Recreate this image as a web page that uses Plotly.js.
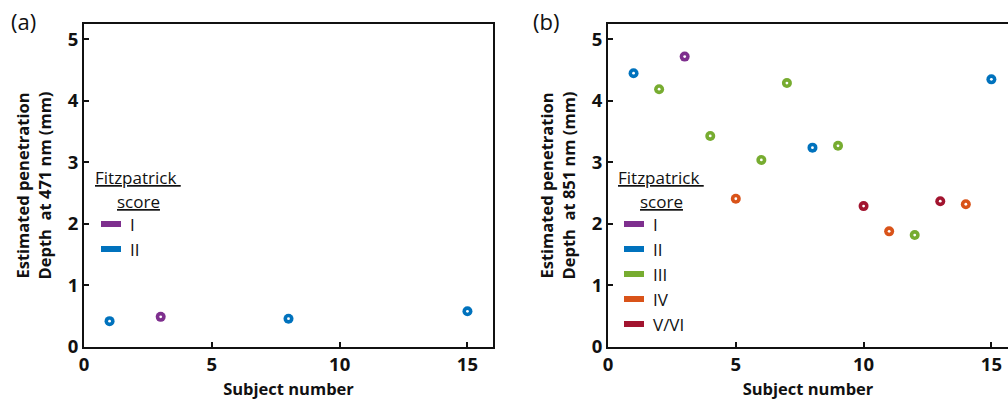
<!DOCTYPE html>
<html>
<head>
<meta charset="utf-8">
<script src="https://cdn.plot.ly/plotly-3.0.1.min.js"></script>
<style>html,body{margin:0;padding:0;background:#fff}#chart{width:1008px;height:402px}</style>
</head>
<body>
<div id="chart"></div>
<script>
// ---- data ----
const scoreNames = ['I', 'II', 'III', 'IV', 'V/VI'];
const scoreColors = ['#7E2F8E', '#0072BD', '#77AC30', '#D95319', '#A2142F'];

const subjects471 = [1, 3, 8, 15];
const depth471 = [0.42, 0.49, 0.46, 0.58];
const score471 = ['II', 'I', 'II', 'II'];

const subjects851 = [1, 2, 3, 4, 5, 6, 7, 8, 9, 10, 11, 12, 13, 14, 15];
const depth851 = [4.45, 4.19, 4.72, 3.43, 2.41, 3.04, 4.29, 3.24, 3.27, 2.29, 1.88, 1.82, 2.37, 2.32, 4.35];
const score851 = ['II', 'III', 'I', 'III', 'IV', 'III', 'III', 'II', 'III', 'V/VI', 'IV', 'III', 'V/VI', 'IV', 'II'];

const xTicks = [0, 5, 10, 15];
const yTicks = [0, 1, 2, 3, 4, 5];

const legend471 = ['I', 'II'];
const legend851 = ['I', 'II', 'III', 'IV', 'V/VI'];

// ---- build traces ----
const W = 1008, H = 402, T = 24, B = 55;
const PH = H - T - B;
const px = x => x / W;
const py = y => 1 - (y - T) / PH;

const traces = [];
function addPanel(xs, ys, sc, xa, ya) {
  scoreNames.forEach((s, i) => {
    const idx = sc.map((v, k) => v === s ? k : -1).filter(k => k >= 0);
    if (!idx.length) return;
    traces.push({
      x: idx.map(k => xs[k]), y: idx.map(k => ys[k]),
      xaxis: xa, yaxis: ya, type: 'scatter', mode: 'markers', showlegend: false,
      marker: {symbol: 'circle', size: 10, color: scoreColors[i], line: {width: 0}},
      hoverinfo: 'skip'
    });
  });
  traces.push({
    x: xs, y: ys, xaxis: xa, yaxis: ya, type: 'scatter', mode: 'markers', showlegend: false,
    marker: {symbol: 'circle', size: 2.8, color: '#ffffff', line: {width: 0}}, hoverinfo: 'skip'
  });
}
addPanel(subjects471, depth471, score471, 'x', 'y');
addPanel(subjects851, depth851, score851, 'x2', 'y2');

const tickFont = {family: 'Open Sans, sans-serif', size: 18.5, color: '#111', weight: 'bold'};
const titleFont = {family: 'Open Sans, sans-serif', size: 16.5, color: '#111', weight: 'bold'};

function xaxisDef(domain, range, anchor) {
  return {
    domain: domain, range: range, anchor: anchor,
    tickmode: 'array', tickvals: xTicks, ticktext: xTicks.map(String),
    ticks: 'inside', ticklen: 5, tickwidth: 2, tickcolor: '#111',
    showline: true, linewidth: 2, linecolor: '#111', mirror: true,
    showgrid: false, zeroline: false, tickfont: tickFont,
    title: {text: 'Subject number', font: titleFont, standoff: 8}
  };
}
function yaxisDef(anchor, label, mirror) {
  return {
    domain: [0, 1], range: [0, 5.25], anchor: anchor,
    tickmode: 'array', tickvals: yTicks, ticktext: yTicks.map(String),
    ticks: 'inside', ticklen: 5, tickwidth: 2, tickcolor: '#111',
    showline: true, linewidth: 2, linecolor: '#111', mirror: mirror,
    showgrid: false, zeroline: false, tickfont: tickFont,
    title: {text: label, font: titleFont, standoff: 12}
  };
}

const annotations = [];
const shapes = [];
const legFont = {family: 'Open Sans, sans-serif', size: 17, color: '#111'};

function addLegend(names, cx, barX) {
  annotations.push({xref: 'paper', yref: 'paper', x: px(cx), y: py(178), text: '<u>Fitzpatrick </u>',
    showarrow: false, font: legFont, xanchor: 'center', yanchor: 'middle'});
  annotations.push({xref: 'paper', yref: 'paper', x: px(cx), y: py(201), text: '<u>score</u>',
    showarrow: false, font: legFont, xanchor: 'center', yanchor: 'middle'});
  names.forEach((n, i) => {
    const c = scoreColors[scoreNames.indexOf(n)];
    const yy = 224 + i * 25;
    shapes.push({type: 'rect', xref: 'paper', yref: 'paper', x0: px(barX), x1: px(barX + 20),
      y0: py(yy - 3), y1: py(yy + 3), fillcolor: c, line: {width: 0}});
    annotations.push({xref: 'paper', yref: 'paper', x: px(barX + 27), y: py(yy), text: n,
      showarrow: false, font: legFont, xanchor: 'left', yanchor: 'middle'});
  });
}
addLegend(legend471, 138, 101);
addLegend(legend851, 661, 624);

annotations.push({xref: 'paper', yref: 'paper', x: px(9), y: py(21), text: '(a)', showarrow: false,
  font: {family: 'Open Sans, sans-serif', size: 22, color: '#111'}, xanchor: 'left', yanchor: 'middle'});
annotations.push({xref: 'paper', yref: 'paper', x: px(531), y: py(21), text: '(b)', showarrow: false,
  font: {family: 'Open Sans, sans-serif', size: 22, color: '#111'}, xanchor: 'left', yanchor: 'middle'});

const layout = {
  width: W, height: H,
  margin: {l: 0, r: 0, t: T, b: B, pad: 0},
  paper_bgcolor: '#fff', plot_bgcolor: '#fff',
  showlegend: false,
  xaxis: xaxisDef([px(84), px(493)], [0, 16], 'y'),
  yaxis: yaxisDef('x', 'Estimated penetration<br>Depth  at 471 nm (mm)', true),
  xaxis2: xaxisDef([px(608), 1], [0, 15.65], 'y2'),
  yaxis2: yaxisDef('x2', 'Estimated penetration<br>Depth  at 851 nm (mm)', false),
  annotations: annotations,
  shapes: shapes
};

Plotly.newPlot('chart', traces, layout, {staticPlot: true, displayModeBar: false});
</script>
</body>
</html>
